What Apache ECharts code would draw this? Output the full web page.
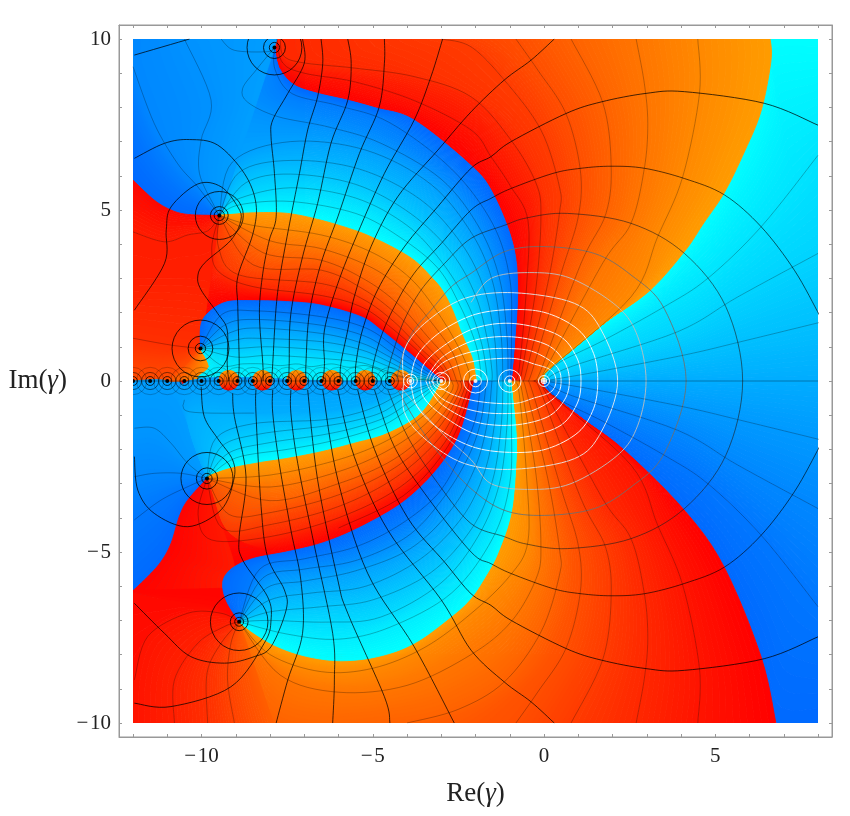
<!DOCTYPE html>
<html><head><meta charset="utf-8"><style>html,body{margin:0;background:#fff}#c{width:850px;height:816px}</style>
<script src="https://cdn.jsdelivr.net/npm/echarts@6/dist/echarts.min.js"></script></head><body><div id="c"></div>
<script>
// tick labels
const xTickLabels=[-10,-5,0,5], yTickLabels=[-10,-5,0,5,10];
const xTicks=[-12,-11,-10,-9,-8,-7,-6,-5,-4,-3,-2,-1,0,1,2,3,4,5,6,7,8];
const yTicks=[-10,-9,-8,-7,-6,-5,-4,-3,-2,-1,0,1,2,3,4,5,6,7,8,9,10];
// poles on the real axis and off-axis, ring radii
const darkPoles=[-12,-11.5,-11,-10.5,-10,-9.5,-8.95,-8.5,-8,-7.5,-7,-6.5,-6,-5.5,-5,-4.5];
const whitePoles=[[-3.9,.1,.2],[-3,.12,.25],[-2,.17,.35],[-1,.15,.33],[0,.08,.16]];
const offPoles=[[-7.87,9.75,.15,.32,.8],[-9.48,4.84,.15,.26,.7],[-10.03,.95,.15,.36,.83],[-9.84,-2.85,.15,.31,.76],[-8.9,-7.04,.13,.26,.84]];
const bubbles=[-9.2,-8.22,-7.22,-6.2,-5.22,-4.18];
// colour region boundaries (phase jumps)
const B1=[[0,0],[.06,.32],[.79,.91],[1.75,1.7],[3.04,2.6],[4.09,3.77],[4.65,4.6],[5.26,5.5],[5.85,6.7],[6.34,7.9],[6.63,9.38],[6.6,10]];
const B2=[[0,0],[.06,-.26],[1.17,-1.14],[2.34,-2.02],[4.09,-3.77],[5.26,-5.44],[6.34,-8.07],[6.77,-10]];
const B3=[[-.96,0],[-.87,1],[-.77,2.66],[-.91,4.02],[-1.5,5.5],[-2.13,6.3],[-3.79,7.63],[-4.86,7.97],[-5.73,8.21],[-6.6,8.41],[-7.29,8.65],[-7.73,9.14],[-7.87,9.75]];
const B4=[[-.98,0],[-.82,-1.44],[-.82,-2.41],[-.96,-3.87],[-1.35,-5.04],[-1.7,-5.7],[-2.13,-6.35],[-2.71,-6.89],[-3.79,-7.67],[-4.86,-8.06],[-5.93,-8.18],[-6.9,-8.06],[-7.78,-7.77],[-8.46,-7.38],[-8.9,-7.04]];
const B5=[[-1.98,0],[-2.08,.61],[-2.28,1.1],[-2.45,1.5],[-2.71,2.17],[-3,2.7],[-3.3,3.05],[-3.75,3.5],[-4.27,3.83],[-4.9,4.15],[-5.54,4.41],[-6.51,4.7],[-7.48,4.9],[-8.46,4.92],[-9.14,4.87],[-9.48,4.84]];
const B6=[[-9.48,4.84],[-10.4,4.87],[-10.89,5],[-11.38,5.29],[-12,5.87]];
const B7=[[-2.98,0],[-3.79,.7],[-4.76,1.49],[-5.34,1.88],[-6.51,2.22],[-7.48,2.32],[-8.46,2.35],[-9.24,2.32],[-9.72,2.07],[-10.01,1.68],[-10.03,.95]];
const B8=[[-2.98,0],[-3.59,-.95],[-4.56,-1.53],[-5.54,-1.82],[-6.51,-2.07],[-7.48,-2.26],[-8.26,-2.38],[-9.14,-2.55],[-9.72,-2.75],[-9.84,-2.85]];
const B9=[[-2.03,0],[-2.42,-1.44],[-2.91,-2.31],[-3.59,-3.09],[-4.37,-3.72],[-5.54,-4.36],[-6.51,-4.75],[-7.48,-4.99],[-8.46,-5.18],[-9.04,-5.43],[-9.33,-5.72],[-9.38,-6.06],[-9.24,-6.5],[-8.9,-7.04]];
const B9a=[[-2.03,0],[-2.42,-1.44],[-2.91,-2.31],[-3.59,-3.09],[-4.37,-3.72],[-5.54,-4.36],[-6.51,-4.75],[-7.48,-4.99],[-8.46,-5.18],[-9.04,-5.43]];
const B10=[[-9.84,-2.85],[-10.4,-3.48],[-10.65,-3.97],[-10.89,-4.75],[-11.18,-5.28],[-11.57,-5.72],[-12,-6.13]];
// constant-phase curves
const axisR=[[0,0],[8,0]];
const pa=[[0,0],[1.57,.27],[4.1,.76],[5.75,1.15],[8.04,1.71]];
const pb=[[0,0],[.79,.42],[3.9,1.44],[5.66,2.46],[8,3.73]];
const pc=[[0,0],[.4,.51],[1.76,1.2],[3.51,2.17],[4.78,3],[6.34,4.51],[8,6.6]];
const pd=[[-.05,0],[.1,.3],[2.54,2.46],[3.32,4.22],[4.05,5.97],[4.54,8.41],[4.49,10]];
const pe=[[-.15,0],[.05,.35],[1.71,3.44],[2.54,4.61],[2.93,6.22],[3.03,7.53],[2.93,8.7],[2.69,10]];
const pf=[[-.3,0],[-.09,.32],[1.08,3.44],[1.81,4.9],[1.96,6.36],[1.71,8.16],[.79,10]];
const pg=[[-.45,0],[-.28,.5],[.5,3.15],[1,4.8],[1.06,6.17],[.64,7.82],[-.18,9.09],[-.82,10]];
const ph=[[-.6,0],[-.48,.42],[.11,2.85],[.45,4.9],[.45,5.68],[-.09,7.34],[-1.16,8.8],[-2.13,9.77],[-3,10]];
const pi_=[[-.72,0],[-.62,.42],[-.23,2.76],[-.09,4.8],[-.23,5.78],[-.96,7.04],[-2.13,8.31],[-3.79,8.9],[-5.54,9.15],[-7,9.3],[-7.6,9.5],[-7.7,10]];
const pj=[[-.85,0],[-.72,.4],[-.51,2.75],[-.47,4.7],[-.98,5.7],[-1.55,6.56],[-2.13,7.34],[-3.79,8.2],[-5.54,8.75],[-7,9],[-7.63,9.3],[-7.8,10]];
const iLow=[[-.72,0],[-.62,-.42],[-.23,-2.76],[-.09,-4.8],[-.23,-5.78],[-.96,-7.04],[-2.13,-8],[-4,-8.9],[-6,-9.1],[-7.7,-8.6],[-8.9,-7.04]];
const jLow=[[-.85,0],[-.72,-.4],[-.51,-2.75],[-.47,-4.7],[-1,-5.7],[-2.13,-6.8],[-3.5,-7.8],[-5,-8.4],[-6.5,-8.5],[-8,-8],[-8.9,-7.04]];
const hLow=[[-.6,0],[-.48,-.42],[.11,-2.85],[.45,-4.9],[.45,-5.68],[-.09,-7.34],[-1.16,-8.8],[-2.5,-9.6],[-4,-10]];
const n1=[[-9.48,4.84],[-8.9,5.15],[-7.4,5.25],[-5.5,4.9],[-4.2,4.2],[-3.1,3.3],[-2.45,2.2],[-2,1.1],[-1.85,.3],[-1.85,0]];
const n2=[[-9.48,4.84],[-9,5.3],[-7.4,5.65],[-5.5,5.35],[-4,4.55],[-3,3.5],[-2.25,2.3],[-1.85,1.2],[-1.68,.3],[-1.68,0]];
const n3=[[-9.48,4.84],[-8.7,5.8],[-7.4,6.05],[-5.5,5.75],[-3.9,4.9],[-2.7,3.75],[-2,2.5],[-1.65,1.2],[-1.52,.3],[-1.52,0]];
const n4=[[-9.48,4.84],[-8.9,6.1],[-7.4,6.45],[-5.4,6.2],[-3.6,5.3],[-2.4,4],[-1.75,2.7],[-1.45,1.3],[-1.36,0]];
const n5=[[-9.48,4.84],[-9.1,6.4],[-7.4,7],[-5.2,6.75],[-3.3,5.75],[-2.1,4.3],[-1.5,2.9],[-1.25,1.3],[-1.2,0]];
const n6=[[-7.87,9.75],[-8.4,9.1],[-8.8,8.55],[-8.65,8.15],[-7.77,7.73],[-6.3,7.43],[-4.76,6.95],[-3,5.9],[-1.9,4.5],[-1.3,3],[-1.08,1.3],[-1.05,0]];
const n7=[[-7.87,9.75],[-7.85,9.1],[-7.35,8.4],[-6,8.05],[-4.5,7.55],[-2.7,6.2],[-1.5,4.6],[-1,3],[-.95,1.3],[-.98,0]];
const o1=[[-9.48,4.84],[-8.5,4.55],[-6.5,4.27],[-5,3.75],[-3.9,3],[-3.1,2],[-2.5,1],[-2.2,.3],[-2.2,0]];
const o2=[[-9.48,4.84],[-8,4.1],[-6.5,3.87],[-5,3.3],[-4,2.55],[-3.2,1.6],[-2.65,.8],[-2.4,0]];
const o3=[[-9.48,4.84],[-8.2,3.75],[-6.5,3.53],[-5.2,2.95],[-4.2,2.2],[-3.4,1.3],[-2.8,.6],[-2.55,0]];
const o4=[[-9.48,4.84],[-8.5,3.4],[-6.5,3.24],[-5.3,2.7],[-4.3,1.95],[-3.5,1.1],[-2.95,.5],[-2.7,0]];
const o5=[[-9.48,4.84],[-9.5,3.9],[-8.9,3.1],[-6.5,2.85],[-5.3,2.4],[-4.4,1.75],[-3.6,.95],[-3,.4],[-2.8,0]];
const o6=[[-9.48,4.84],[-9.7,3.9],[-9.5,3.2],[-8.5,2.76],[-6.5,2.5],[-5.3,2.15],[-4.45,1.55],[-3.6,.8],[-3.1,.3],[-2.9,0]];
const p1=[[-10.03,.95],[-9.4,1.95],[-8.4,2.05],[-6.5,1.88],[-5.2,1.55],[-4.3,.95],[-3.5,.35],[-3.1,.1],[-3,0]];
const p2=[[-10.03,.95],[-9.3,1.65],[-8.4,1.8],[-6.5,1.63],[-5.2,1.3],[-4.4,.8],[-3.6,.3],[-3,0]];
const p3=[[-10.03,.95],[-9.2,1.4],[-8.4,1.55],[-6.5,1.39],[-5.3,1.1],[-4.5,.7],[-3.7,.25],[-3,0]];
const p4=[[-10.03,.95],[-9,1.2],[-8.4,1.25],[-6.5,1.15],[-5.3,.9],[-4.5,.55],[-3.8,.2],[-3,0]];
const p5=[[-10.03,.95],[-9,.95],[-8,1],[-6.5,.9],[-5.3,.7],[-4.6,.45],[-3.9,.15],[-3,0]];
const p6=[[-10.03,.95],[-9,.7],[-8,.75],[-6.5,.66],[-5.4,.55],[-4.7,.33],[-4,.1],[-3,0]];
const p7=[[-10.03,.95],[-9.4,.45],[-8.8,.5],[-8.2,.5],[-7.7,.45],[-7.2,.5],[-6.8,.42],[-6.2,.5],[-5.7,.4],[-5.2,.45],[-4.7,.28],[-4.1,.1],[-3,0]];
const axisUp=[[-10.03,.95],[-9.77,.42],[-9.87,0],[-6,0],[-3,0]];
const q1=[[-9.84,-2.85],[-9,-2.25],[-7.5,-2],[-6.5,-1.82],[-5.5,-1.57],[-4.6,-1.25],[-3.8,-.7],[-3.2,-.2],[-3,0]];
const q2=[[-9.84,-2.85],[-9.2,-2.1],[-8,-1.8],[-6.5,-1.58],[-5.5,-1.36],[-4.6,-1.05],[-3.9,-.6],[-3,0]];
const q3=[[-9.84,-2.85],[-9.4,-1.9],[-8.3,-1.55],[-6.5,-1.33],[-5.5,-1.15],[-4.7,-.9],[-4,-.45],[-3,0]];
const q4=[[-9.84,-2.85],[-9.6,-1.7],[-8.5,-1.25],[-6.5,-1.14],[-5.5,-.95],[-4.8,-.7],[-4.1,-.35],[-3,0]];
const q5=[[-9.84,-2.85],[-10.35,-.9],[-8.46,-.94],[-6.5,-.9],[-5.5,-.75],[-4.8,-.55],[-4.2,-.25],[-3,0]];
const axisLow=[[-9.84,-2.85],[-10.3,-1.5],[-10.4,0],[-6,0],[-3,0]];
const r1=[[-.98,0],[-.95,-1.3],[-1,-3],[-1.5,-4.6],[-2.7,-6.2],[-4.5,-7.2],[-6,-7.55],[-7.5,-7.4],[-8.9,-7.04]];
const r2=[[-1.05,0],[-1.08,-1.3],[-1.3,-3],[-1.9,-4.5],[-3,-5.9],[-4.76,-6.9],[-6.3,-7.05],[-8,-7],[-8.9,-7.04]];
const r3=[[-1.2,0],[-1.25,-1.3],[-1.5,-2.9],[-2.1,-4.3],[-3.3,-5.6],[-5,-6.4],[-6.5,-6.6],[-8,-6.75],[-8.9,-7.04]];
const r4=[[-1.36,0],[-1.45,-1.3],[-1.75,-2.7],[-2.4,-4],[-3.6,-5.2],[-5.2,-6],[-6.8,-6.2],[-8,-6.4],[-8.9,-7.04]];
const r5=[[-1.52,0],[-1.65,-1.2],[-2,-2.5],[-2.7,-3.75],[-3.9,-4.9],[-5.5,-5.55],[-7,-5.85],[-8.1,-6.05],[-8.9,-7.04]];
const r6=[[-1.68,0],[-1.85,-1.2],[-2.25,-2.3],[-3,-3.5],[-4,-4.55],[-5.5,-5.25],[-7,-5.5],[-8.2,-5.75],[-8.9,-7.04]];
const r7=[[-1.85,0],[-2,-1.1],[-2.45,-2.2],[-3.1,-3.3],[-4.2,-4.2],[-5.5,-4.85],[-7,-5.2],[-8.3,-5.5],[-8.9,-7.04]];
const s1=[[-9.84,-2.85],[-8,-2.75],[-6,-2.3],[-4.6,-1.75],[-3.5,-1],[-2.85,-.3],[-2.85,0]];
const s2=[[-9.84,-2.85],[-8,-3.1],[-6,-2.65],[-4.5,-2],[-3.4,-1.2],[-2.7,-.3],[-2.7,0]];
const s3=[[-9.84,-2.85],[-8,-3.5],[-6,-3],[-4.4,-2.3],[-3.2,-1.3],[-2.55,-.3],[-2.55,0]];
const s4=[[-9.84,-2.85],[-9.2,-3.9],[-8,-3.85],[-6,-3.33],[-4.3,-2.5],[-3.1,-1.4],[-2.45,-.3],[-2.45,0]];
const s5=[[-9.84,-2.85],[-9.4,-4.3],[-8,-4.2],[-6,-3.67],[-4.3,-2.8],[-3,-1.6],[-2.35,-.3],[-2.35,0]];
const s6=[[-9.84,-2.85],[-10.1,-3.9],[-9.7,-4.65],[-8,-4.55],[-6,-4],[-4.2,-3.1],[-2.9,-1.8],[-2.25,-.3],[-2.25,0]];
const s7=[[-6,-4.3],[-4.1,-3.35],[-2.8,-1.9],[-2.15,-.3],[-2.15,0]];
const tl2=[[-9.48,4.84],[-10.11,5.68],[-10.7,6.36],[-11.38,7.53],[-12,9.19],[-12,10]];
const tl3=[[-9.48,4.84],[-9.62,5.1],[-10.06,6.07],[-10.01,7.05],[-9.72,8.21],[-10.5,10]];
const tl5=[[-9.48,4.84],[-7.87,9.75],[-7.87,10]];
const wl1=[[-9.48,4.84],[-9.8,4.4],[-10.4,4.27],[-11.08,4.07],[-12,4.36]];
const wl2=[[-9.75,2.9],[-10.5,3],[-12,3]];
const wl3=[[-10.03,.95],[-10.89,1.05],[-12,1.25]];
const wl4=[[-10.03,.95],[-10.4,.5],[-11,0],[-12,0]];
const cz1=[[-9.84,-2.85],[-10.4,-3.09],[-11.18,-3.48],[-12,-4.06]];
const cz2=[[-9.84,-2.85],[-10.6,-2.7],[-11.38,-2.7],[-12,-2.8]];
const cz3=[[-9.84,-2.85],[-10.4,-2.41],[-10.89,-1.82],[-11.38,-1.38],[-12,-1.38]];
const cz4=[[-9.84,-2.85],[-10.3,-1.5],[-10.5,-.55],[-11,0],[-12,0]];
const f1=[[-8.9,-7.04],[-9.6,-6.6],[-11,-6.4],[-12,-6.2]];
const f2=[[-8.9,-7.04],[-9.43,-6.79],[-10.4,-6.79],[-11.57,-7.47],[-11.96,-8.74],[-12,-10]];
const f3=[[-8.9,-7.04],[-9.33,-7.18],[-10.11,-7.67],[-10.79,-8.74],[-10.79,-10]];
const f4=[[-8.9,-7.04],[-9.43,-7.67],[-9.84,-8.55],[-9.82,-10]];
const f5=[[-8.9,-7.04],[-9.14,-7.67],[-9.24,-8.74],[-9.04,-10]];
const f6=[[-8.9,-7.04],[-7.9,-10]];
const redR=[[-9.84,-2.85],[-9.44,-4.14],[-9.04,-5.43],[-9.33,-5.72],[-9.38,-6.06],[-9.24,-6.5],[-8.9,-7.04]];
const t1=[[-7.87,9.75],[-8.07,9.63],[-9.04,9.67],[-9.43,10]];
const t2=[[-11.96,9.53],[-10.35,10]];
const lz1=[[-11.96,-1.38],[-11.38,-1.38],[-10.89,-1.82],[-10.4,-2.41],[-9.84,-2.85]];
const lz2=[[-11.96,-2.8],[-11.38,-2.7],[-10.6,-2.7],[-9.84,-2.85]];
const lz3=[[-11.96,-4.06],[-11.18,-3.48],[-10.4,-3.09],[-9.84,-2.85]];
const lz4=[[-10.5,-.55],[-10.35,-.9],[-8.46,-.94]];
// constant-modulus curves: right parts are symmetric about the real axis
const A0r=[[.3,10],[-.38,9.38],[-1.16,8.8],[-2.13,7.87]];
const A1r=[[8,7.48],[6.43,8.12],[4.1,8.46],[2.98,8.41],[1.67,8.16],[.64,7.82],[-.96,7],[-1.55,6.56],[-2.13,6.22]];
const A2r=[[8.04,1.93],[7.31,3.24],[6.34,4.51],[5.27,5.44],[4.1,5.92],[2.93,6.22],[1.96,6.28],[1.08,6.22],[.26,6.07],[-.96,5.63],[-1.55,5.34],[-2.13,5]];
const A3r=[[5.8,0],[5.31,2.17],[4.1,3.73],[2.54,4.61],[.69,4.9],[-.5,4.77],[-1.16,4.55],[-2.13,4.17]];
const A4r=[[4.15,0],[3.51,2.12],[2.54,3.1],[1.47,3.73],[.01,3.93],[-1.16,3.78],[-2.13,3.15]];
const A5r=[[2.98,0],[2.74,1.29],[2.15,2.17],[.79,3],[-.43,3.17],[-1.55,3],[-2.13,2.3]];
const A6=[[2.15,0],[1.67,1.49],[.89,2.27],[-.87,2.58],[-2.33,2.41],[-3.49,1.68],[-4.08,.9],[-4.1,0]];
const A7=[[1.57,0],[1.45,.8],[1,1.5],[.1,1.98],[-.87,2.09],[-2,1.95],[-3,1.45],[-3.7,.75],[-3.9,0]];
const A8=[[1.08,0],[.95,.7],[.4,1.35],[-.87,1.68],[-2,1.55],[-2.9,1.05],[-3.5,.5],[-3.6,0]];
const A9=[[.74,0],[.6,.55],[.1,1.05],[-.9,1.29],[-2,1.2],[-2.9,.75],[-3.3,.3],[-3.45,0]];
const A10=[[.5,0],[.35,.45],[-.3,.85],[-1,.95],[-1.9,.9],[-2.8,.62],[-3.25,.25],[-3.35,0]];
const A11=[[.35,0],[.2,.32],[-.3,.5],[-.9,.66],[-1.9,.6],[-2.7,.38],[-3.3,0]];
// modulus curves, upper left
const A0u=[[-2.13,7.87],[-3.1,6.75],[-4.27,5.39],[-5.05,3.93],[-5.54,2.46],[-5.73,1.49],[-5.93,.51],[-5.95,0]];
const A1u=[[-2.13,6.22],[-3.1,5.1],[-4.08,3.92],[-4.86,2.66],[-5.3,1.49],[-5.49,.51],[-5.5,0]];
const A2u=[[-2.13,5],[-3,4.02],[-3.79,3.15],[-4.37,2.17],[-4.76,1.29],[-5,.4],[-5,0]];
const A3u=[[-2.13,4.17],[-2.9,3.44],[-3.59,2.66],[-4.08,1.78],[-4.37,.97],[-4.56,.3],[-4.56,0]];
const A4u=[[-2.13,3.15],[-2.7,2.76],[-3.3,2.07],[-3.79,1.5],[-4.08,.9],[-4.27,.2],[-4.3,0]];
const La=[[-7.05,10],[-7,9.29],[-7.48,8.41],[-7.92,7.63],[-7.97,7.14],[-7.87,6.07],[-7.82,4.8],[-8.02,4.12],[-8.21,3.15],[-8.31,1.98],[-8.21,.51],[-8.2,0]];
const Lb=[[-6.51,10],[-6.46,9.29],[-6.61,8.31],[-6.9,7.34],[-7.14,6.07],[-7.39,4.8],[-7.68,3.24],[-7.82,2.17],[-7.92,.51],[-7.95,0]];
const Lc=[[-5.73,10],[-5.63,9.29],[-5.73,8.21],[-6.22,6.95],[-6.61,5.19],[-7.05,3.63],[-7.39,1.98],[-7.44,.51],[-7.45,0]];
const Ld=[[-4.66,10],[-4.66,9.29],[-4.81,8.02],[-5.39,6.65],[-6.02,4.8],[-6.51,3.44],[-6.85,1.98],[-6.95,.51],[-6.95,0]];
const Le=[[-2.96,10],[-3.3,8.9],[-3.79,7.63],[-4.66,6.07],[-5.44,4.32],[-6.02,2.85],[-6.41,1.49],[-6.41,.51],[-6.45,0]];
const Lm=[[-11.96,6.51],[-11.08,6.95],[-10.35,7.06],[-9.53,6.9],[-8.75,6.07],[-8.41,5.19],[-8.5,4.3],[-8.94,3.05],[-8.94,2.17],[-8.9,.5],[-8.95,0]];
const Ln=[[-11.96,2.07],[-11.08,3.44],[-11.03,4.41],[-10.89,5.09],[-10.11,5.76],[-9.43,5.68],[-8.94,5.09],[-8.85,4.7],[-9.14,4.12],[-9.92,3.44],[-10.11,3.05],[-10.01,2.66],[-9.53,1.98],[-9.25,1.49],[-9.25,.5],[-9.2,0]];
// modulus curves, lower left
const m0=[[-10.01,-.17],[-9.92,-1.04],[-9.53,-1.68],[-9.09,-2.31],[-9.06,-2.9],[-9.43,-3.77],[-10.4,-4.26],[-11.38,-3.87],[-11.86,-3.19],[-11.96,-2.21]];
const m1=[[-9.09,-.36],[-9.04,-1.04],[-8.7,-2.8],[-8.9,-4.55],[-8.8,-5.23],[-8.07,-6.31],[-7.97,-6.99],[-8.17,-7.67],[-9.14,-8.94],[-10.89,-9.52],[-11.96,-9.42]];
const m2=[[-8.41,-.26],[-8.41,-.94],[-8.26,-3.67],[-8.07,-5.14],[-7.58,-6.11],[-7.53,-6.7],[-7.97,-7.77],[-8.46,-8.06],[-9.33,-8.25],[-10.31,-8.06],[-11.08,-7.38],[-11.96,-6.5]];
const m3=[[-7.92,-.26],[-7.92,-.94],[-7.73,-2.41],[-7.39,-4.36],[-7.1,-5.82],[-7.05,-7.38],[-7.48,-8.74],[-7.82,-10]];
const m4=[[-7.39,-.26],[-7.39,-.94],[-7.19,-2.41],[-6.7,-4.84],[-6.17,-7.38],[-6.12,-8.74],[-6.17,-10]];
const m5=[[-6.9,-.26],[-6.61,-2.89],[-6.02,-5.82],[-5.73,-6.79],[-4.66,-9.23],[-4.5,-10]];
const m6=[[-6.46,-.26],[-6.02,-2.89],[-5.15,-5.62],[-3.79,-7.77],[-2.62,-10]];
const m7=[[-6.02,-.26],[-5.54,-2.21],[-4.56,-4.36],[-3,-6.4],[-2.13,-7.87]];
const m8=[[-5.44,-.26],[-4.95,-2],[-3.98,-4],[-2.9,-5.3],[-2.13,-6.22]];
const m9=[[-4.95,-.26],[-4.37,-1.92],[-3.4,-3.4],[-2.13,-5]];
const m10=[[-4.56,-.26],[-3.98,-1.63],[-3.1,-2.99],[-2.13,-4.17]];
const m11=[[-4.27,-.26],[-3.7,-1.24],[-3,-2.2],[-2.13,-3.15]];
const m12=[[-4.17,-.2],[-3.6,-.85],[-2.9,-1.6],[-2.13,-2.3]];

const mir=l=>l.map(p=>[p[0],-p[1]]);
const rev=l=>l.slice().reverse();
const join=(a,b)=>a.concat(b.slice(1));
const CORNER_TR=[[8,10]],CORNER_BR=[[8,-10]];
const rectUL=[[-12,10],[-7,10],[-7,5],[-12,5]], rectLL=[[-12,0],[-8,0],[-8,-6.3],[-12,-6.3]], rectWL=[[-12,1.6],[-9.5,1.6],[-9.5,0],[-12,0]], rectBot=[[-8,-10],[1,-10],[1,-8],[-8,-8]];
const hFill=hLow.concat([[-7.9,-10],[-8.9,-7.04]]);
// patches: kind, then [curve, colour position]
const patches=[
['c',[[B1.concat(CORNER_TR),1],[pc,.82],[pb,.71],[pa,.58],[axisR,.45]]],
['c',[[axisR,.45],[mir(pa),.32],[mir(pb),.2],[mir(pc),.09],[B2.concat(CORNER_BR),0]]],
['w',[[B3.concat([[-7.87,10]]),0],[pj,.125],[pi_,.25],[ph,.375],[pg,.5],[pf,.625],[pe,.75],[pd,.875],[B1,1]]],
['w',[[B2,0],[mir(pd),.125],[mir(pe),.25],[mir(pf),.375],[mir(pg),.5],[hLow,.625]]],
['w',[[hFill,.625],[iLow,.75],[jLow,.875],[B4,1]]],
['c',[[B5,1],[n1,.875],[n2,.75],[n3,.625],[n4,.5],[n5,.375],[n6,.27],[n7,.13],[B3,0]]],
['c',[[B6,0],[tl2,.2],[tl3,.27],[tl5,.36]]],
['w',[[B5,1],[o1,.875],[o2,.75],[o3,.625],[o4,.5],[o5,.375],[o6,.25],[B7,0]]],
['w',[[B6,.04],[wl1,.18],[wl2,.2],[wl3,.3],[wl4,.5]]],
['w',[[[[-10.03,.95],[-9.77,.42],[-9.87,0]],1],[[[-10.03,.95],[-10.4,.5],[-11,0]],.55]]],
['w',[[[[-10.6,0],[-9.9,0]],.05],[[[-10.5,-.15],[-10,-.15]],.05]]],
['c',[[B7,0],[p1,.125],[p2,.25],[p3,.375],[p4,.5],[p5,.625],[p6,.75],[p7,.85],[axisUp,.92]]],
['c',[[B10,0],[cz1,.1],[cz2,.2],[cz3,.3],[cz4,.35]]],
['c',[[axisLow,.35],[q5,.45],[q4,.55],[q3,.65],[q2,.75],[q1,.875],[B8,1]]],
['w',[[B8,1],[s1,.875],[s2,.75],[s3,.625],[s4,.5],[s5,.375],[s6,.25],[B9a,0]]],
['w',[[B10,.02],[redR,.16]]],
['w',[[[[-12,-6.13],[-9.38,-6.06]],.02],[f1,.05],[f2,.12],[f3,.2],[f4,.3],[f5,.42],[f6,.6]]],
['c',[[B9,0],[r7,.125],[r6,.25],[r5,.375],[r4,.5],[r3,.625],[r2,.75],[r1,.875],[B4,1]]]
];
const col=(k,t)=>k==='c'?`rgb(0,${Math.round(105+150*t)},255)`:`rgb(255,${Math.round(156*t)},0)`;
function dens(l,n){const o=[];for(let i=0;i<l.length-1;i++){const a=l[i>0?i-1:i],b=l[i],c=l[i+1],d=l[i+2<l.length?i+2:i+1];
 for(let j=0;j<n;j++){const s=j/n,s2=s*s,s3=s2*s;const f=k=>.5*(2*b[k]+(c[k]-a[k])*s+(2*a[k]-5*b[k]+4*c[k]-d[k])*s2+(3*b[k]-a[k]-3*c[k]+d[k])*s3);o.push([f(0),f(1)]);}}
 o.push(l[l.length-1]);return o;}
function resample(l,N){const d=dens(l,6),c=[0];for(let i=1;i<d.length;i++)c.push(c[i-1]+Math.hypot(d[i][0]-d[i-1][0],d[i][1]-d[i-1][1]));
 const o=[];let j=0;for(let i=0;i<=N;i++){const s=c[c.length-1]*i/N;while(j<c.length-2&&c[j+1]<s)j++;const u=(s-c[j])/((c[j+1]-c[j])||1);o.push([d[j][0]+(d[j+1][0]-d[j][0])*u,d[j][1]+(d[j+1][1]-d[j][1])*u]);}return o;}
const strips=[{pts:rectUL,c:col('c',.3)},{pts:rectLL,c:col('c',.3)},{pts:rectWL,c:col('w',.4)},{pts:rectBot,c:col('w',.62)}];
patches.forEach(([k,bands])=>{let prev=null,pt=0;bands.forEach(([l,t])=>{let r=resample(l,70);
 if(prev){const q=(a,b)=>Math.hypot(a[0]-b[0],a[1]-b[1]);if(q(r[0],prev[0])+q(r[70],prev[70])>q(r[0],prev[70])+q(r[70],prev[0]))r=r.slice().reverse();
  const S=Math.max(1,Math.ceil(Math.abs(t-pt)/.012));for(let s=0;s<S;s++){const mk=u=>r.map((p,i)=>[prev[i][0]+(p[0]-prev[i][0])*u,prev[i][1]+(p[1]-prev[i][1])*u]);
   const A=mk(s/S),B=mk((s+1)/S);strips.push({pts:A.concat(B.reverse()),c:col(k,pt+(t-pt)*(s+.5)/S)});}}
 prev=r;pt=t;});});

const DARK='rgba(0,0,0,.72)',THIN='rgba(0,0,0,.33)';
const lines=[];const add=(l,c,w)=>lines.push([dens(l,8),c,w||1]);
const closed=(r,u,lo)=>join(rev(join(mir(r),rev(lo))),join(r,u));
add(join(A0r,A0u),DARK);add(join(mir(A0r),rev(m7)),DARK);
add(join(A1r,A1u),DARK);add(join(mir(A1r),rev(m8)),DARK);
add(join(A2r,A2u),'rgba(0,0,0,.62)');add(join(mir(A2r),rev(m9)),'rgba(0,0,0,.62)');
add(closed(A3r,A3u,m10),'rgba(30,30,30,.6)');
add(closed(A4r,A4u,m11),'rgba(110,110,110,.85)');
add(join(rev(join(mir(A5r),rev(m12))),A5r),'rgba(190,190,190,.9)');
[A6,A7,A8,A9,A10,A11].forEach((l,i)=>{add(join(rev(mir(l)),l),i?'rgba(255,255,255,.9)':'rgba(235,235,235,.9)');});
[La,Lb,Lc,Ld,Le,Lm,Ln,m0,m1,m2,m3,m4,m5,m6,t2].forEach(l=>add(l,DARK));
[pa,pb,pc,pd,pe,pf,pg,ph,pi_,pj].forEach(l=>{add(l,THIN,.8);});
[pa,pb,pc,pd,pe,pf,pg].forEach(l=>add(mir(l),THIN,.8));
[hLow,iLow,jLow,n1,n2,n3,n4,n5,n6,n7,o1,o2,o3,o4,o5,o6,p1,p2,p3,p4,p5,p6,p7,q1,q2,q3,q4,r1,r2,r3,r4,r5,r6,r7,s1,s2,s3,s4,s5,s6,s7,
 tl2.slice(0,5),tl3,wl1,wl3,f2.slice(0,5),f3,f4,f5,t1,lz1,lz2,lz3,lz4].forEach(l=>add(l,THIN,.8));
add([[-12,0],[8,0]],'rgba(0,0,0,.4)',.8);

const rings=[];
darkPoles.forEach(x=>{rings.push([x,0,.13,'rgba(0,0,0,.75)'],[x,0,.25,'rgba(0,0,0,.5)'],[x,0,.4,'rgba(0,0,0,.22)']);});
offPoles.forEach(p=>{rings.push([p[0],p[1],p[2],'rgba(0,0,0,.8)'],[p[0],p[1],p[3],'rgba(0,0,0,.8)'],[p[0],p[1],p[4],'rgba(0,0,0,.75)']);});
whitePoles.forEach(p=>{rings.push([p[0],0,p[1],'rgba(255,255,255,.95)'],[p[0],0,p[2],'rgba(255,255,255,.9)']);});
const dots=darkPoles.map(x=>[x,0,'#000']).concat(offPoles.map(p=>[p[0],p[1],'#000'])).concat(whitePoles.map(p=>[p[0],0,'#eee']));

const name=(a)=>`{a|${a}(}{b|γ}{a|)}`;
const fmt=v=>v<0?'\u2212\u200a'+Math.abs(v):String(v);
const base={type:'custom',xAxisIndex:1,yAxisIndex:1,silent:true,clip:true,animation:false};
const nameRich={a:{fontFamily:'Liberation Serif',fontSize:27,color:'#222'},b:{fontFamily:'Liberation Serif',fontStyle:'italic',fontSize:27,color:'#222'}};
const XMIN=-12-14/34.25,XMAX=8+14/34.25,YMIN=-10-14/34.2,YMAX=10+14/34.2;
const FR='#999';
const tickOnly=(ticks)=>({show:true,inside:true,length:3,lineStyle:{color:FR},customValues:ticks});
const opt={animation:false,
 grid:[{left:119,right:18,top:25,bottom:79,show:true,borderColor:FR,borderWidth:1,backgroundColor:'#fff'},{left:133,right:32,top:39,bottom:93}],
 xAxis:[{type:'value',gridIndex:0,min:XMIN,max:XMAX,name:name('Re'),nameLocation:'middle',nameGap:43,
   nameTextStyle:{rich:nameRich},
   splitLine:{show:false},axisLine:{show:true,onZero:false,lineStyle:{color:FR}},
   axisTick:tickOnly(xTicks),
   axisLabel:{customValues:xTickLabels,formatter:fmt,fontFamily:'Liberation Serif',fontSize:21,color:'#222',margin:9,showMinLabel:true,showMaxLabel:true}},
  {type:'value',gridIndex:1,min:-12,max:8,show:false},
  {type:'value',gridIndex:0,position:'top',min:XMIN,max:XMAX,splitLine:{show:false},axisLine:{show:true,onZero:false,lineStyle:{color:FR}},axisTick:tickOnly(xTicks),axisLabel:{show:false}}],
 yAxis:[{type:'value',gridIndex:0,min:YMIN,max:YMAX,name:name('Im'),nameLocation:'middle',nameRotate:0,nameGap:52,
   nameTextStyle:{rich:nameRich},
   splitLine:{show:false},axisLine:{show:true,onZero:false,lineStyle:{color:FR}},
   axisTick:tickOnly(yTicks),
   axisLabel:{customValues:yTickLabels,formatter:fmt,fontFamily:'Liberation Serif',fontSize:21,color:'#222',margin:8}},
  {type:'value',gridIndex:1,min:-10,max:10,show:false},
  {type:'value',gridIndex:0,position:'right',min:YMIN,max:YMAX,splitLine:{show:false},axisLine:{show:true,onZero:false,lineStyle:{color:FR}},axisTick:tickOnly(yTicks),axisLabel:{show:false}}],
 series:[
 {...base,data:strips.map((s,i)=>[i]),encode:{x:0},renderItem:(p,api)=>{const s=strips[api.value(0)];
   return {type:'polygon',shape:{points:s.pts.map(q=>api.coord(q))},style:{fill:s.c,stroke:s.c,lineWidth:.9}};}},
 {...base,z:3,data:bubbles.map(x=>[x,0]),renderItem:(p,api)=>{const c=api.coord([api.value(0),.02]),r=api.size([.3,.3]);
   return {type:'ellipse',shape:{cx:c[0],cy:c[1],rx:r[0],ry:r[1]},style:{fill:new echarts.graphic.LinearGradient(0,0,0,1,[{offset:0,color:'#ff9c00'},{offset:.6,color:'#ff4a00'},{offset:1,color:'#f00'}])}};}},
 ...lines.map(([l,c,w])=>({type:'line',xAxisIndex:1,yAxisIndex:1,z:4,data:l,showSymbol:false,silent:true,animation:false,lineStyle:{color:c,width:w}})),
 {...base,z:5,data:rings.map((r,i)=>[i]),encode:{x:0},renderItem:(p,api)=>{const r=rings[api.value(0)],c=api.coord([r[0],r[1]]),s=api.size([r[2],r[2]]);
   return {type:'circle',shape:{cx:c[0],cy:c[1],r:s[0]},style:{fill:null,stroke:r[3],lineWidth:1}};}},
 {...base,z:6,data:dots.map((r,i)=>[i]),encode:{x:0},renderItem:(p,api)=>{const r=dots[api.value(0)],c=api.coord([r[0],r[1]]);
   return {type:'circle',shape:{cx:c[0],cy:c[1],r:2},style:{fill:r[2]}};}}
 ]};
echarts.init(document.getElementById('c'),null,{renderer:'canvas'}).setOption(opt);
</script></body></html>
